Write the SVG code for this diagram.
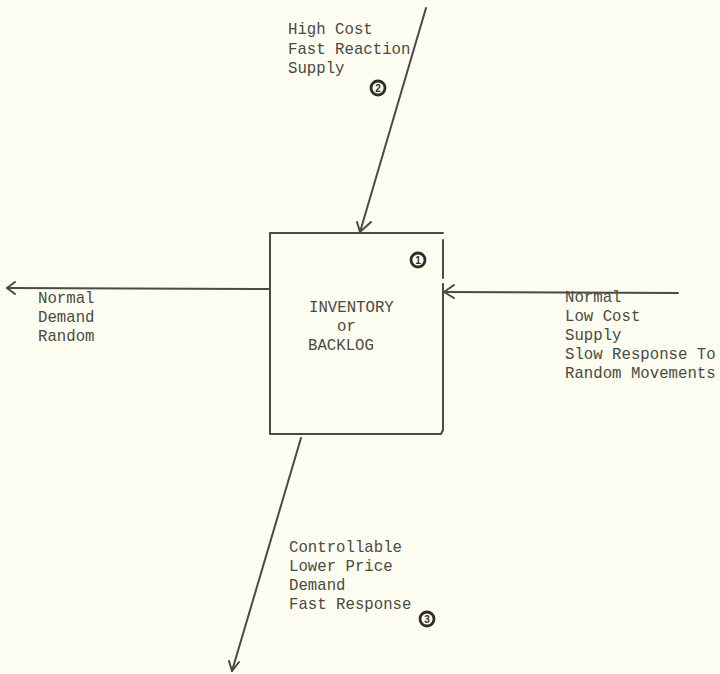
<svg xmlns="http://www.w3.org/2000/svg" width="720" height="674" viewBox="0 0 720 674">
  <defs>
    <style>
      .bg { fill: #fcfdf0; }
      .ln { stroke: #4b4a40; stroke-width: 2; fill: none; stroke-linecap: round; stroke-linejoin: round; }
      .txt { font-family: "Liberation Mono", "Courier New", monospace; font-size: 15.7px; fill: #4a4a42; }
      .num { font-family: "Liberation Sans", Arial, sans-serif; font-size: 10px; font-weight: bold; fill: #2e2e26; text-anchor: middle; }
      .ring { fill: none; stroke: #2e2e26; stroke-width: 2.8; }
    </style>
  </defs>
  <rect class="bg" x="0" y="0" width="720" height="674"/>

  <g id="inventory">
    <path class="ln" d="M270,233 L443,233"/>
    <path class="ln" d="M443,240 L443,278 M443,284 L443,430 L441,434 L270,434 L270,233"/>
    <text class="txt" x="309" y="312">INVENTORY</text>
    <text class="txt" x="337" y="331">or</text>
    <text class="txt" x="308" y="350">BACKLOG</text>
    <circle class="ring" cx="418" cy="260" r="7"/>
    <text class="num" x="418" y="264">1</text>
  </g>

  <g id="label-high-cost">
    <text class="txt" x="288" y="34">High Cost</text>
    <text class="txt" x="288" y="54">Fast Reaction</text>
    <text class="txt" x="288" y="73">Supply</text>
    <circle class="ring" cx="378" cy="88" r="7"/>
    <text class="num" x="378" y="92">2</text>
  </g>

  <g id="label-normal-demand">
    <text class="txt" x="38" y="303">Normal</text>
    <text class="txt" x="38" y="322">Demand</text>
    <text class="txt" x="38" y="341">Random</text>
  </g>

  <g id="label-normal-supply">
    <text class="txt" x="565" y="302">Normal</text>
    <text class="txt" x="565" y="321">Low Cost</text>
    <text class="txt" x="565" y="340">Supply</text>
    <text class="txt" x="565" y="359">Slow Response To</text>
    <text class="txt" x="565" y="378">Random Movements</text>
  </g>

  <g id="label-controllable">
    <text class="txt" x="289" y="552">Controllable</text>
    <text class="txt" x="289" y="571">Lower Price</text>
    <text class="txt" x="289" y="590">Demand</text>
    <text class="txt" x="289" y="609">Fast Response</text>
    <circle class="ring" cx="427" cy="619" r="7"/>
    <text class="num" x="427" y="623">3</text>
  </g>

  <g id="connectors">
    <path class="ln" d="M426,8 L360,232"/>
    <path class="ln" d="M357,222 L360,232 L371,222"/>
    <path class="ln" d="M270,289 L7,288"/>
    <path class="ln" d="M15,282 L7,288 L15,294"/>
    <path class="ln" d="M678,293 L444,292"/>
    <path class="ln" d="M454,285 L444,292 L454,298"/>
    <path class="ln" d="M301,438 L232,671"/>
    <path class="ln" d="M229,661 L232,671 L239,662"/>
  </g>
</svg>
